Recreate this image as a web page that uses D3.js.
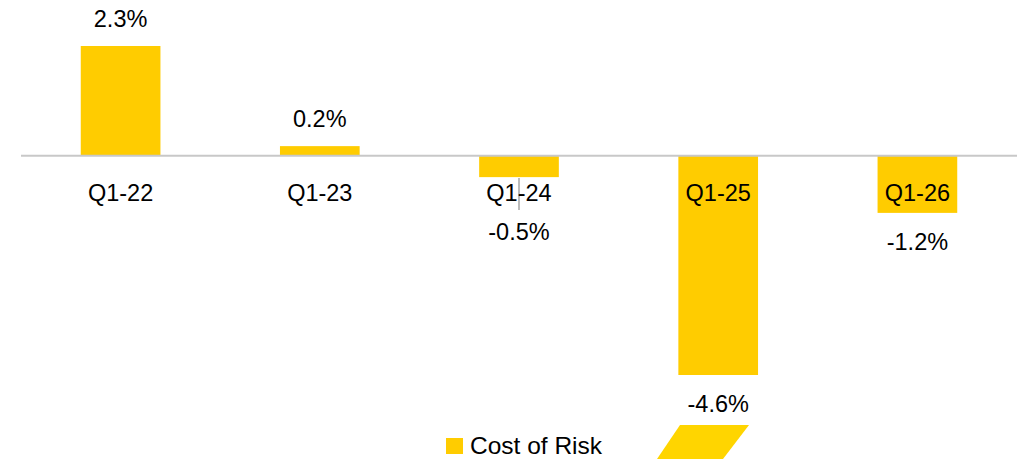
<!DOCTYPE html>
<html>
<head>
<meta charset="utf-8">
<script src="https://cdn.jsdelivr.net/npm/d3@7"></script>
<style>
  body { margin: 0; background: #fff; }
  svg { display: block; font-family: "Liberation Sans", Arial, sans-serif; }
</style>
</head>
<body>
<div id="chart"></div>
<script>
const categories = ["Q1-22", "Q1-23", "Q1-24", "Q1-25", "Q1-26"];
const costOfRisk = [2.3, 0.2, -0.45, -4.6, -1.2];
const valueLabels = ["2.3%", "0.2%", "-0.5%", "-4.6%", "-1.2%"];
const seriesName = "Cost of Risk";

const width = 1022, height = 459;
const yellow = "#ffcc00";

const svg = d3
  .select("#chart")
  .append("svg")
  .attr("width", width)
  .attr("height", height);

const x = d3.scaleBand().domain(categories).range([21, 1017]).paddingInner(0.6).paddingOuter(0.3);

// 2.3 -> 46, -4.6 -> 375
const y = d3.scaleLinear().domain([-4.6, 2.3]).range([375, 46]);

// bars
svg
  .selectAll("rect.bar")
  .data(costOfRisk)
  .join("rect")
  .attr("class", "bar")
  .attr("x", (_d, i) => x(categories[i]))
  .attr("width", x.bandwidth())
  .attr("y", (d) => Math.min(y(d), y(0)))
  .attr("height", (d) => Math.abs(y(d) - y(0)))
  .style("fill", yellow);

// zero line
svg
  .append("line")
  .attr("x1", 21)
  .attr("x2", 1017)
  .attr("y1", y(0))
  .attr("y2", y(0))
  .style("stroke", "#c8c8c8")
  .style("stroke-width", 2);

// small stray tick under Q1-24
svg
  .append("line")
  .attr("x1", x("Q1-24") + x.bandwidth() / 2)
  .attr("x2", x("Q1-24") + x.bandwidth() / 2)
  .attr("y1", y(-0.45) + 1)
  .attr("y2", 210)
  .style("stroke", "#a6a6a6")
  .style("stroke-width", 1.5);

// category labels
svg
  .selectAll("text.cat")
  .data(categories)
  .join("text")
  .attr("class", "cat")
  .attr("x", (d) => x(d) + x.bandwidth() / 2)
  .attr("y", 201)
  .attr("text-anchor", "middle")
  .style("font-size", "23.5px")
  .style("fill", "#000")
  .text((d) => d);

// value labels
svg
  .selectAll("text.val")
  .data(costOfRisk)
  .join("text")
  .attr("class", "val")
  .attr("x", (_d, i) => x(categories[i]) + x.bandwidth() / 2)
  .attr("y", (d) => (d >= 0 ? y(d) - 19 : Math.max(y(d) + 37, 240)))
  .attr("text-anchor", "middle")
  .style("font-size", "23.5px")
  .style("fill", "#000")
  .text((_d, i) => valueLabels[i]);

// legend
const legend = svg.append("g").attr("transform", "translate(446, 438)");
legend.append("rect").attr("width", 17).attr("height", 16).style("fill", yellow);
legend
  .append("text")
  .attr("x", 24)
  .attr("y", 16)
  .style("font-size", "24.5px")
  .style("fill", "#000")
  .text(seriesName);

// logo fragment at the bottom edge
svg
  .append("polygon")
  .attr("points", "680,425 749,425 723,459 657,459")
  .style("fill", "#ffd500");
</script>
</body>
</html>
